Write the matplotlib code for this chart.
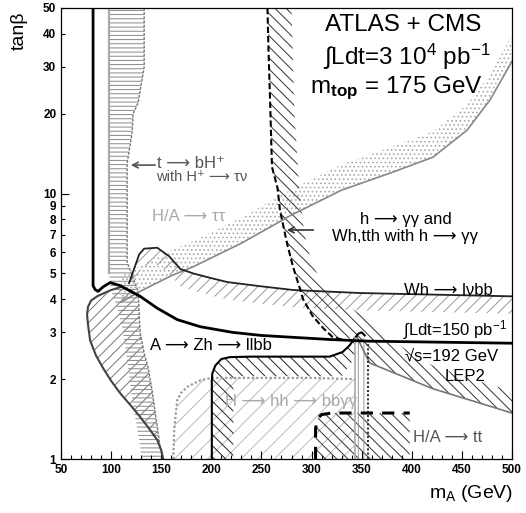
import numpy as np
import matplotlib
matplotlib.use("Agg")
import matplotlib.pyplot as plt
from matplotlib.ticker import FixedLocator, FixedFormatter

plt.rcParams['font.family'] = ['Liberation Sans', 'DejaVu Sans']
plt.rcParams['mathtext.fontset'] = 'custom'
plt.rcParams['mathtext.rm'] = 'Liberation Sans'
plt.rcParams['mathtext.it'] = 'Liberation Sans:italic'
plt.rcParams['mathtext.bf'] = 'Liberation Sans:bold'
plt.rcParams['hatch.linewidth'] = 0.7

# ---- curves (mA in GeV, tan beta) ----
LEP_MA = [82, 82, 84, 87, 92, 99, 109, 129, 146, 166, 189, 221, 250, 318, 355, 500]
LEP_TB = [50, 4.5, 4.35, 4.28, 4.45, 4.62, 4.5, 4.1, 3.7, 3.35, 3.15, 3.0, 2.92, 2.82, 2.78, 2.73]

HP_LEFT_MA = [98, 98, 100, 104, 107, 112, 117, 121, 126, 131]
HP_LEFT_TB = [50, 5.0, 4.3, 3.9, 3.6, 3.0, 2.2, 1.67, 1.3, 1.0]
HP_RIGHT_MA = [133, 133, 127, 122, 121, 116, 116, 122, 127, 128, 129, 133, 137, 141, 144, 149, 152]
HP_RIGHT_TB = [50, 30, 22, 20, 17, 13, 5.5, 4.8, 4.3, 3.5, 3.0, 2.5, 2.2, 1.8, 1.5, 1.1, 1.0]

LOBE_MA = [110, 100, 92, 86, 80, 77, 76, 77, 79, 85, 92, 100, 109, 119, 129, 138, 146, 150, 152]
LOBE_TB = [4.45, 4.33, 4.2, 4.1, 3.95, 3.75, 3.5, 3.2, 2.8, 2.45, 2.2, 1.97, 1.77, 1.6, 1.44, 1.3, 1.18, 1.08, 1.0]

TT_MA = [110, 130, 160, 182, 230, 280, 330, 380, 421, 455, 478, 500]
TT_TB = [3.9, 4.3, 4.9, 5.3, 6.5, 8.3, 10.3, 12.0, 13.7, 17.3, 22.5, 31.5]

WH_MA = [118, 128, 133, 146, 158, 169, 182, 200, 216, 250, 282, 348, 500]
WH_TB = [4.6, 5.9, 6.2, 6.25, 5.8, 5.2, 5.0, 4.8, 4.64, 4.47, 4.33, 4.22, 4.1]

HG_MA = [256, 257, 258.6, 260.5, 266, 268.5, 275.5, 281.5, 288.5, 291.5, 301, 312, 321, 333]
HG_TB = [50, 35, 22.5, 12.6, 10.5, 8.65, 6.5, 5.3, 4.37, 4.0, 3.46, 3.1, 2.88, 2.8]
HG_OUT_MA = [500, 460, 421, 400, 380, 360, 330, 313, 300, 293, 288, 283, 280]
HG_OUT_TB = [1.8, 2.0, 2.25, 2.5, 2.8, 3.3, 3.9, 4.4, 5.5, 7.0, 10.0, 20.0, 50.0]
HGL_MA = [345, 351, 358, 421, 500]
HGL_TB = [2.9, 2.6, 2.3, 1.84, 1.49]

AZH_MA = [200.5, 200.5, 201, 204, 210, 218.5, 240, 280, 318, 331, 338, 343, 347, 350, 353, 356, 356]
AZH_TB = [1.0, 1.98, 2.1, 2.25, 2.38, 2.42, 2.43, 2.43, 2.43, 2.53, 2.68, 2.85, 2.97, 3.0, 2.92, 2.8, 1.0]
AZH_IN_MA = [343, 330, 222, 222]
AZH_IN_TB = [2.4, 2.05, 2.05, 1.0]

HH_MA = [162, 163, 166, 170, 176, 189, 200, 300, 343]
HH_TB = [1.0, 1.3, 1.67, 1.78, 1.87, 1.98, 2.02, 2.02, 2.0]

BAND_MA = [343, 356]
BAND_TOP = 2.85

HATT_MA = [304, 304, 306, 310, 320, 398]
HATT_TB = [1.0, 1.3, 1.42, 1.47, 1.49, 1.49]

X_TICKS = [50, 100, 150, 200, 250, 300, 350, 400, 450, 500]
Y_MAJOR = [1, 10]
Y_MINOR = [2, 3, 4, 5, 6, 7, 8, 9, 20, 30, 40, 50]


def hatch_fill(ax, xs, ys, color, hatch):
    ax.fill(xs, ys, facecolor='none', edgecolor=color, hatch=hatch, lw=0)


fig = plt.figure(figsize=(5.26, 5.13), dpi=100)
ax = fig.add_axes([61 / 526, 54 / 513, 451 / 526, 451 / 513])
ax.set_yscale('log')
ax.set_xlim(50, 500)
ax.set_ylim(1, 50)

# regions
hatch_fill(ax, LOBE_MA + HP_RIGHT_MA[::-1][:9] + [110], LOBE_TB + HP_RIGHT_TB[::-1][:9] + [4.45], '#777777', '///')
hatch_fill(ax, HP_LEFT_MA + HP_RIGHT_MA[::-1], HP_LEFT_TB + HP_RIGHT_TB[::-1], '#888888', '----')
hatch_fill(ax, TT_MA + TT_MA[::-1], TT_TB + [t * 1.25 for t in TT_TB[::-1]], '#aaaaaa', '....')
hatch_fill(ax, WH_MA + WH_MA[::-1], WH_TB + [t * 0.86 for t in WH_TB[::-1]], '#999999', '///')
hatch_fill(ax, HG_MA + HGL_MA + HG_OUT_MA, HG_TB + HGL_TB + HG_OUT_TB, '#333333', '\\\\\\')
hatch_fill(ax, HH_MA + [343, 162], HH_TB + [1.0, 1.0], '#bbbbbb', '//')
hatch_fill(ax, AZH_MA[:12] + AZH_IN_MA, AZH_TB[:12] + AZH_IN_TB, '#222222', '\\\\\\')
hatch_fill(ax, HATT_MA + [398], HATT_TB + [1.0], '#333333', '\\\\\\')
ax.fill_between(BAND_MA, [1, 1], [BAND_TOP, BAND_TOP], facecolor='none',
                edgecolor='#999999', hatch='|||', lw=0)

# boundary lines
ax.plot(HP_LEFT_MA[:2], HP_LEFT_TB[:2], color='#aaaaaa', lw=1.6)
ax.plot(HP_RIGHT_MA, HP_RIGHT_TB, color='#777777', lw=1.0, ls=(0, (2, 1)))
ax.plot(LOBE_MA, LOBE_TB, color='#444444', lw=1.5)
ax.plot(TT_MA, TT_TB, color='#888888', lw=1.2)
ax.plot(WH_MA, WH_TB, color='#222222', lw=1.3)
ax.plot(HG_MA, HG_TB, color='black', lw=1.5, ls=(0, (3, 1.5)))
ax.plot(HGL_MA, HGL_TB, color='#777777', lw=1.2)
ax.plot(HH_MA, HH_TB, color='#999999', lw=1.6, ls=(0, (1, 1)))
ax.plot(AZH_MA[:-2], AZH_TB[:-2], color='black', lw=1.5)
ax.plot(AZH_MA[-2:], AZH_TB[-2:], color='#333333', lw=1.5, ls=(0, (1, 1)))
ax.plot([BAND_MA[0]] * 2, [1, BAND_TOP], color='#aaaaaa', lw=1.2)
ax.plot(HATT_MA, HATT_TB, color='black', lw=2.2, ls=(0, (4, 3)))
ax.plot(LEP_MA, LEP_TB, color='black', lw=2.0)

# labels inside the plot
big = dict(fontsize=17.5, ha='center', va='center')
ax.text(391, 43.1, 'ATLAS + CMS', **big)
ax.text(395, 32.7, '∫Ldt=3 10$^{4}$ pb$^{-1}$', **big)
ax.text(385, 25.0, r'm$_{\mathbf{top}}$ = 175 GeV', **big)

mid = dict(fontsize=12, ha='center', va='center')
ax.text(394.5, 7.95, 'h ⟶ γγ and', **mid)
ax.text(393.5, 6.86, 'Wh,tth with h ⟶ γγ', **mid)
ax.text(437, 4.33, 'Wh ⟶ lνbb', **mid)
ax.text(443, 3.06, '∫Ldt=150 pb$^{-1}$', **mid)
ax.text(440, 2.44, '√s=192 GeV', **mid)
ax.text(453, 2.04, 'LEP2', **mid)
ax.text(436, 1.21, 'H/A ⟶ tt', color='#555555', **mid)
ax.text(199.7, 2.67, 'A ⟶ Zh ⟶ llbb', **mid)
ax.text(279.6, 1.64, 'H ⟶ hh ⟶ bbγγ', color='#aaaaaa', **mid)
ax.text(177.7, 8.23, 'H/A ⟶ ττ', color='#aaaaaa', **mid)
ax.text(179.7, 13.0, 't ⟶ bH⁺', color='#555555', **mid)
ax.text(190.7, 11.5, 'with H⁺ ⟶ τν', color='#555555', fontsize=10.5, ha='center', va='center')

ax.annotate('', xy=(116.9, 12.8), xytext=(146.8, 12.8),
            arrowprops=dict(arrowstyle='->', color='#555555', lw=1.2))
ax.annotate('', xy=(272.5, 7.29), xytext=(304.5, 7.29),
            arrowprops=dict(arrowstyle='->', color='#333333', lw=1.2))

# axes styling
ax.xaxis.set_major_locator(FixedLocator(X_TICKS))
ax.xaxis.set_minor_locator(FixedLocator(np.arange(50, 501, 10)))
ax.yaxis.set_major_locator(FixedLocator(Y_MAJOR))
ax.yaxis.set_major_formatter(FixedFormatter([str(v) for v in Y_MAJOR]))
ax.yaxis.set_minor_locator(FixedLocator(Y_MINOR))
ax.yaxis.set_minor_formatter(FixedFormatter([str(v) for v in Y_MINOR]))
ax.tick_params(which='both', direction='in', top=False, right=False,
               labelsize=8.5, width=0.8)
ax.tick_params(which='major', length=6)
ax.tick_params(which='minor', length=3)
for lab in ax.get_xticklabels() + ax.get_yticklabels(which='both'):
    lab.set_fontweight('bold')
for s in ax.spines.values():
    s.set_linewidth(0.9)

fig.text(19 / 526, 1 - 31 / 513, 'tanβ', rotation=90, fontsize=14,
         ha='center', va='center')
fig.text(513 / 526, 1 - 493 / 513, r'm$_{\mathrm{A}}$ (GeV)', fontsize=14,
         ha='right', va='center')

fig.savefig('out.png', dpi=100)
